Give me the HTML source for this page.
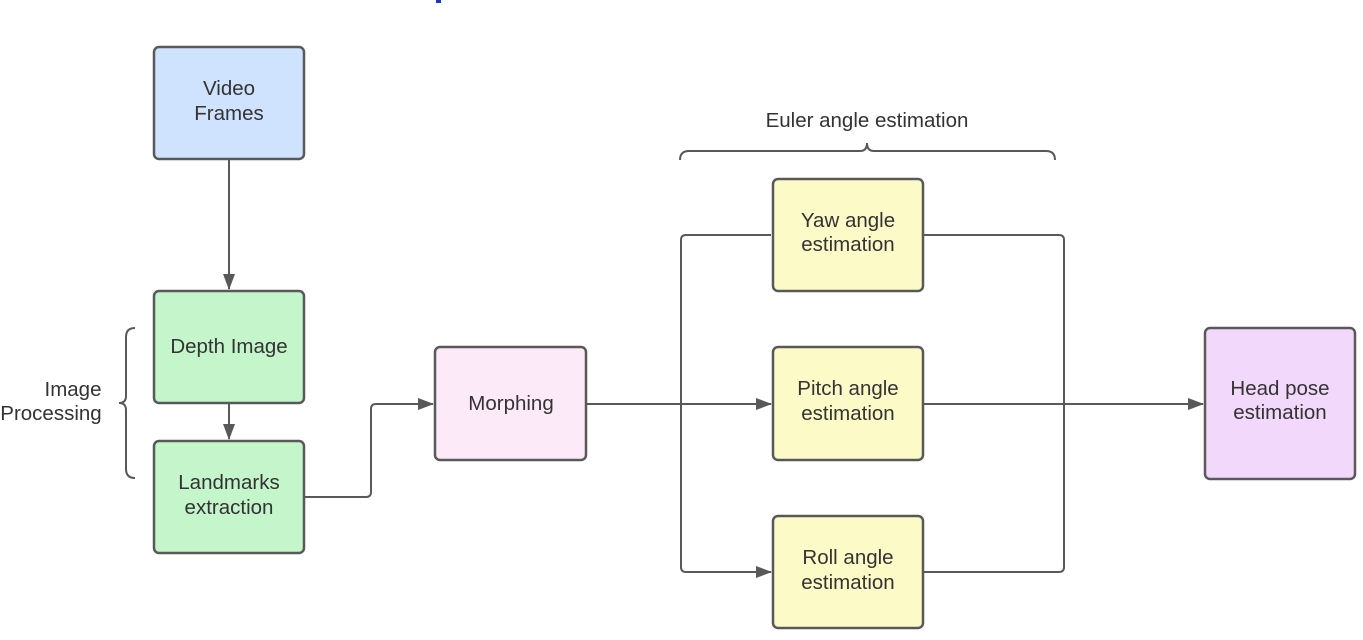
<!DOCTYPE html>
<html><head><style>
html,body{margin:0;padding:0;background:#fff;}
svg{display:block;font-family:"Liberation Sans",sans-serif;}
</style></head><body>
<svg width="1363" height="640" viewBox="0 0 1363 640">
<defs><marker id="a" markerWidth="16" markerHeight="12" refX="15" refY="6" orient="auto" markerUnits="userSpaceOnUse"><path d="M0,0 L16,6 L0,12 Z" fill="#595959"/></marker></defs>
<rect x="436" y="0" width="5" height="3" fill="#1a35c8"/>
<g stroke="#595959" stroke-width="2" fill="none">
<path d="M229,160 V289" marker-end="url(#a)"/>
<path d="M229,404 V439" marker-end="url(#a)"/>
<path d="M305,497 H366 Q371,497 371,492 V409 Q371,404 376,404 H433" marker-end="url(#a)"/>
<path d="M587,404 H771" marker-end="url(#a)"/>
<path d="M771,235 H686 Q681,235 681,240 V567 Q681,572 686,572 H771" marker-end="url(#a)"/>
<path d="M924,235 H1059 Q1064,235 1064,240 V567 Q1064,572 1059,572 H924"/>
<path d="M924,404 H1203" marker-end="url(#a)"/>
<path d="M135,328 Q126,328 126,337 V396 Q126,403 119,403 Q126,403 126,410 V469 Q126,478 135,478"/>
<path d="M680,160 Q680,151 689,151 H860 Q867,151 867,143 Q867,151 874,151 H1046 Q1055,151 1055,160"/>
</g>
<g stroke="#595959" stroke-width="2.5">
<rect x="154" y="47" width="150" height="112" rx="5" fill="#cfe2fe"/>
<rect x="154" y="291" width="150" height="112" rx="5" fill="#c4f5cb"/>
<rect x="154" y="441" width="150" height="112" rx="5" fill="#c4f5cb"/>
<rect x="435" y="347" width="151" height="113" rx="5" fill="#fdeaf8"/>
<rect x="773" y="179" width="150" height="112" rx="5" fill="#fcfbc8"/>
<rect x="773" y="347" width="150" height="113" rx="5" fill="#fcfbc8"/>
<rect x="773" y="516" width="150" height="112" rx="5" fill="#fcfbc8"/>
<rect x="1205" y="328" width="150" height="151" rx="5" fill="#f2d8fb"/>
</g>
<g fill="#333" font-size="20.5" text-anchor="middle">
<text x="229" y="95">Video</text><text x="229" y="120">Frames</text>
<text x="229" y="353">Depth Image</text>
<text x="229" y="489">Landmarks</text><text x="229" y="514">extraction</text>
<text x="511" y="410">Morphing</text>
<text x="848" y="227">Yaw angle</text><text x="848" y="251">estimation</text>
<text x="848" y="395">Pitch angle</text><text x="848" y="420">estimation</text>
<text x="848" y="564">Roll angle</text><text x="848" y="589">estimation</text>
<text x="1280" y="395">Head pose</text><text x="1280" y="419">estimation</text>
<text x="867" y="127">Euler angle estimation</text>
<text x="73" y="396">Image</text><text x="51" y="420">Processing</text>
</g>
</svg>
</body></html>
